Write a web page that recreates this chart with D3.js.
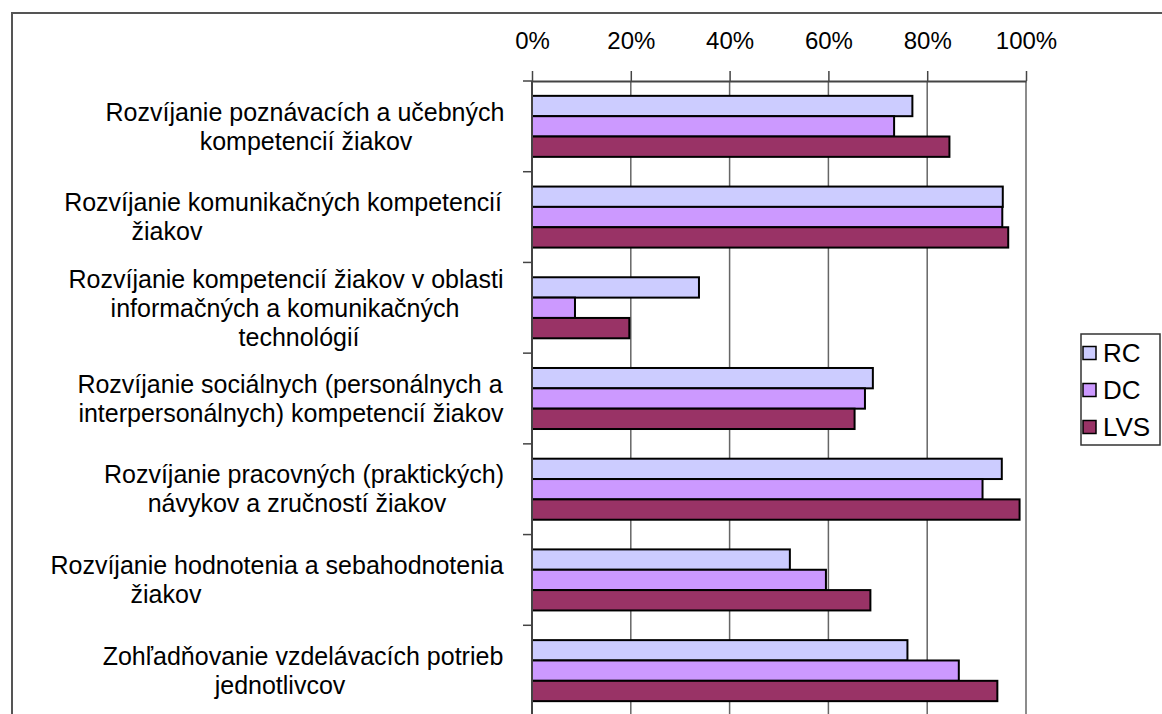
<!DOCTYPE html>
<html>
<head>
<meta charset="utf-8">
<script src="https://cdn.jsdelivr.net/npm/d3@7"></script>
<style>
  body { margin: 0; background: #fff; }
  svg { display: block; font-family: "Liberation Sans", Arial, sans-serif; }
</style>
</head>
<body>
<div id="chart"></div>
<script>
// categories (line breaks as in the original)
const categories = [
    "Rozvíjanie poznávacích a učebných\nkompetencií žiakov",
    "Rozvíjanie komunikačných kompetencií\nžiakov",
    "Rozvíjanie kompetencií žiakov v oblasti\ninformačných a komunikačných\ntechnológií",
    "Rozvíjanie sociálnych (personálnych a\ninterpersonálnych) kompetencií žiakov",
    "Rozvíjanie pracovných (praktických)\nnávykov a zručností žiakov",
    "Rozvíjanie hodnotenia a sebahodnotenia\nžiakov",
    "Zohľadňovanie vzdelávacích potrieb\njednotlivcov"
];

const seriesNames = ["RC", "DC", "LVS"];
const seriesColors = ["#ccccff", "#cc99ff", "#993366"];

// values in %
const rcValues = [77.0, 95.3, 33.8, 69.0, 95.1, 52.2, 76.0];
const dcValues = [73.3, 95.2, 8.7, 67.4, 91.2, 59.5, 86.4];
const lvsValues = [84.5, 96.4, 19.7, 65.3, 98.7, 68.5, 94.2];

const tickValues = [0, 20, 40, 60, 80, 100];

const width = 1162;
const height = 714;

// the wrapped labels in the original are not all centred on one x,
// so each line keeps its own centre (layout only)
const labelLineCenters = [
    [305, 306],
    [283, 167],
    [286, 285, 299],
    [290, 291],
    [304, 297],
    [277, 166],
    [303, 280]
];

const svg = d3.select("#chart")
    .append("svg")
    .attr("width", width)
    .attr("height", height);

// chart area border (runs off the right and bottom edge)
svg.append("rect")
    .attr("x", 12)
    .attr("y", 13)
    .attr("width", 1180)
    .attr("height", 730)
    .attr("fill", "none")
    .attr("stroke", "#555")
    .attr("stroke-width", 2);

const x = d3.scaleLinear()
    .domain([0, 100])
    .range([532, 1026]);

const y = d3.scaleBand()
    .domain(d3.range(categories.length))
    .range([81, 716]);

const ySub = d3.scaleBand()
    .domain(seriesNames)
    .range([0, y.bandwidth()])
    .paddingOuter(0.73);

const allValues = [rcValues, dcValues, lvsValues];

// gridlines
svg.append("g")
    .selectAll("line")
    .data(tickValues.slice(1))
    .enter()
    .append("line")
    .attr("x1", d => x(d))
    .attr("x2", d => x(d))
    .attr("y1", y.range()[0])
    .attr("y2", y.range()[1])
    .attr("stroke", "#666")
    .attr("stroke-width", 1.5);

// bars
seriesNames.forEach((name, si) => {
    svg.append("g")
        .selectAll("rect")
        .data(allValues[si])
        .enter()
        .append("rect")
        .attr("x", x(0))
        .attr("y", (d, i) => y(i) + ySub(name))
        .attr("width", d => x(d) - x(0))
        .attr("height", ySub.bandwidth())
        .attr("fill", seriesColors[si])
        .attr("stroke", "#000")
        .attr("stroke-width", 2);
});

// value axis on top
const xAxis = d3.axisTop(x)
    .tickValues(tickValues)
    .tickSizeInner(10)
    .tickSizeOuter(0)
    .tickPadding(22)
    .tickFormat(d => d + "%");

const gx = svg.append("g")
    .attr("transform", `translate(0,${y.range()[0]})`)
    .call(xAxis);
gx.select(".domain").attr("stroke", "#444").attr("stroke-width", 2);
gx.selectAll(".tick line").attr("stroke", "#444").attr("stroke-width", 1.5);
gx.selectAll(".tick text")
    .attr("font-size", 24)
    .attr("font-family", "Liberation Sans, Arial, sans-serif")
    .attr("fill", "#000");

// category axis line and boundary ticks
svg.append("line")
    .attr("x1", x(0))
    .attr("x2", x(0))
    .attr("y1", y.range()[0])
    .attr("y2", y.range()[1])
    .attr("stroke", "#444")
    .attr("stroke-width", 2);

svg.append("g")
    .selectAll("line")
    .data(d3.range(categories.length + 1))
    .enter()
    .append("line")
    .attr("x1", x(0) - 9)
    .attr("x2", x(0))
    .attr("y1", i => y.range()[0] + i * y.step())
    .attr("y2", i => y.range()[0] + i * y.step())
    .attr("stroke", "#444")
    .attr("stroke-width", 1.5);

// category labels
const lineHeight = 29;
const labels = svg.append("g")
    .selectAll("text")
    .data(categories)
    .enter()
    .append("text")
    .attr("text-anchor", "middle")
    .attr("font-size", 25)
    .attr("fill", "#000");

labels.each(function(d, i) {
    const lines = d.split("\n");
    const cy = y(i) + y.bandwidth() / 2;
    const top = cy - (lines.length - 1) * lineHeight / 2;
    d3.select(this).selectAll("tspan")
        .data(lines)
        .enter()
        .append("tspan")
        .attr("x", (l, j) => labelLineCenters[i][j])
        .attr("y", (l, j) => top + j * lineHeight)
        .attr("dy", "0.35em")
        .text(l => l);
});

// legend
const legend = svg.append("g");
legend.append("rect")
    .attr("x", 1081)
    .attr("y", 334)
    .attr("width", 79)
    .attr("height", 111)
    .attr("fill", "#fff")
    .attr("stroke", "#333")
    .attr("stroke-width", 1.5);

const legendItems = legend.selectAll("g.item")
    .data(seriesNames)
    .enter()
    .append("g")
    .attr("class", "item")
    .attr("transform", (d, i) => `translate(1083, ${353 + i * 37})`);

legendItems.append("rect")
    .attr("x", 0)
    .attr("y", -6.5)
    .attr("width", 13)
    .attr("height", 13)
    .attr("fill", (d, i) => seriesColors[i])
    .attr("stroke", "#000")
    .attr("stroke-width", 1.5);

legendItems.append("text")
    .attr("x", 20)
    .attr("y", 0)
    .attr("dy", "0.35em")
    .attr("font-size", 26)
    .attr("fill", "#000")
    .text(d => d);
</script>
</body>
</html>
